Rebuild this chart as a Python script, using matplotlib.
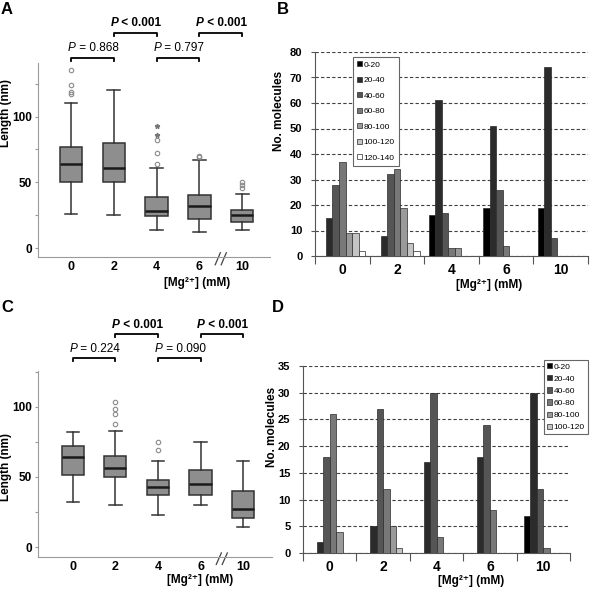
import numpy as np
import matplotlib.pyplot as plt
from matplotlib.transforms import blended_transform_factory

plt.rcParams['font.family'] = ['Liberation Sans', 'DejaVu Sans']

conc = ['0', '2', '4', '6', '10']

# Panel A: length box plots (nm)
a_low = [26, 25, 14, 12, 14]
a_q1 = [50, 50, 24, 22, 20]
a_med = [64, 61, 28, 32, 25]
a_q3 = [77, 80, 39, 40, 29]
a_high = [110, 120, 61, 67, 41]
a_out = [[117, 119, 124, 135], [], [64, 72, 82], [69, 70], [46, 48, 50]]
a_ext = [[], [], [86, 93], [], []]
a_pvals = ['= 0.868', '< 0.001', '= 0.797', '< 0.001']

# Panel C: length box plots (nm)
c_low = [32, 30, 23, 30, 14]
c_q1 = [51, 50, 37, 37, 21]
c_med = [64, 56, 43, 45, 27]
c_q3 = [72, 65, 48, 55, 40]
c_high = [82, 83, 61, 75, 61]
c_out = [[], [88, 95, 98, 103], [69, 75], [], []]
c_ext = [[], [], [], [], []]
c_pvals = ['= 0.224', '< 0.001', '= 0.090', '< 0.001']

# Panel B: histogram counts per length bin
b_bins = ['0-20', '20-40', '40-60', '60-80', '80-100', '100-120', '120-140']
b_0_20 = [0, 0, 16, 19, 19]
b_20_40 = [15, 8, 61, 51, 74]
b_40_60 = [28, 32, 17, 26, 7]
b_60_80 = [37, 34, 3, 4, 0]
b_80_100 = [9, 19, 3, 0, 0]
b_100_120 = [9, 5, 0, 0, 0]
b_120_140 = [2, 2, 0, 0, 0]

# Panel D: histogram counts per length bin
d_bins = ['0-20', '20-40', '40-60', '60-80', '80-100', '100-120']
d_0_20 = [0, 0, 0, 0, 7]
d_20_40 = [2, 5, 17, 18, 30]
d_40_60 = [18, 27, 30, 24, 12]
d_60_80 = [26, 12, 3, 8, 1]
d_80_100 = [4, 5, 0, 0, 0]
d_100_120 = [0, 1, 0, 0, 0]

bin_colors = ['#000000', '#2b2b2b', '#555555', '#787878', '#9a9a9a', '#c4c4c4', '#ffffff']

fig = plt.figure(figsize=(5.9, 5.9), dpi=100)
W = 590.0


def add_ax(x0, y0, x1, y1):
    # pixel box (left, top, right, bottom) -> figure fraction
    return fig.add_axes([x0 / W, 1 - y1 / W, (x1 - x0) / W, (y1 - y0) / W])


def ftext(px, py, s, **kw):
    fig.text(px / W, 1 - py / W, s, ha='center', va='center', fontweight='bold', **kw)


def pval(ax, xmid, y, rest, bold):
    w = 'bold' if bold else 'normal'
    ax.annotate('P', (xmid, y), xytext=(-12, 0), textcoords='offset points',
                ha='right', va='bottom', fontsize=8.5, fontstyle='italic',
                fontweight=w, annotation_clip=False)
    ax.annotate(' ' + rest, (xmid, y), xytext=(-12, 0), textcoords='offset points',
                ha='left', va='bottom', fontsize=8.5, fontweight=w,
                annotation_clip=False)


def box_panel(ax, low, q1, med, q3, high, out, ext, pvals, ylim, xlim, yb):
    stats = [dict(whislo=l, q1=a, med=m, q3=b, whishi=h, fliers=o)
             for l, a, m, b, h, o in zip(low, q1, med, q3, high, out)]
    ax.bxp(stats, positions=range(5), widths=0.52, capwidths=0.3,
           patch_artist=True, showfliers=True,
           boxprops=dict(facecolor='#8e8e8e', edgecolor='#333333', linewidth=1.1),
           medianprops=dict(color='#1a1a1a', linewidth=1.8),
           whiskerprops=dict(color='#333333', linewidth=1.1),
           capprops=dict(color='#333333', linewidth=1.1),
           flierprops=dict(marker='o', markersize=3.2, markerfacecolor='none',
                           markeredgecolor='#8a8a8a', markeredgewidth=0.8))
    for i, e in enumerate(ext):
        if e:
            ax.plot([i] * len(e), e, ls='none', marker='*', ms=3.5, color='#777777')
    ax.set_xlim(*xlim)
    ax.set_ylim(*ylim)
    for s in ['top', 'right']:
        ax.spines[s].set_visible(False)
    for s in ['left', 'bottom']:
        ax.spines[s].set_color('#9a9a9a')
    ax.set_yticks([0, 50, 100])
    ax.set_yticks([25, 75, 125], minor=True)
    ax.tick_params(axis='y', which='both', colors='#9a9a9a', labelcolor='black',
                   labelsize=8.5, length=2.5, width=0.8, pad=2)
    ax.set_xticks(range(5))
    ax.set_xticklabels(conc)
    ax.tick_params(axis='x', length=0, labelsize=9, pad=3)
    for t in ax.get_xticklabels() + ax.get_yticklabels():
        t.set_fontweight('bold')
    # axis break
    tr = blended_transform_factory(ax.transData, ax.transAxes)
    for dx in (0.0, 0.14):
        ax.plot([3.37 + dx, 3.49 + dx], [-0.04, 0.022], color='#444444', lw=0.9,
                transform=tr, clip_on=False)
    # significance brackets
    pairs = [(0, 1), (1, 2), (2, 3), (3, 4)]
    for k, ((x0, x1), p) in enumerate(zip(pairs, pvals)):
        y = yb[k % 2]
        tick = (ylim[1] - ylim[0]) * 0.015
        ax.plot([x0, x0, x1, x1], [y - tick, y, y, y - tick], color='black',
                lw=1.3, clip_on=False)
        pval(ax, (x0 + x1) / 2, y + tick * 1.3, p, k % 2 == 1)


def bar_panel(ax, series, bins, ymax, ystep, xlim):
    n = len(series)
    w = 0.12
    x = np.arange(len(conc))
    for i, vals in enumerate(series):
        ax.bar(x + (i - (n - 1) / 2) * w, vals, width=w, color=bin_colors[i],
               edgecolor='#2a2a2a', linewidth=0.5, label=bins[i], zorder=3)
    ax.set_xlim(*xlim)
    ax.set_ylim(0, ymax)
    ax.set_yticks(np.arange(0, ymax + 1, ystep))
    ax.yaxis.grid(True, linestyle=(0, (3, 2)), color='#404040', linewidth=0.8)
    for s in ['top', 'right']:
        ax.spines[s].set_visible(False)
    ax.spines['left'].set_color('#555555')
    ax.spines['bottom'].set_color('#555555')
    ax.set_xticks(np.arange(-0.5, len(conc)), labels=[''] * (len(conc) + 1))
    ax.set_xticks(x, labels=conc, minor=True)
    ax.tick_params(axis='x', which='major', length=6, color='#555555')
    ax.tick_params(axis='x', which='minor', length=0, labelsize=10, pad=5)
    ax.tick_params(axis='y', length=3, color='#555555', labelsize=8, pad=6)
    for t in ax.get_xticklabels(minor=True) + ax.get_yticklabels():
        t.set_fontweight('bold')


def legend(ax, x0, y0, spacing, pad):
    leg = ax.legend(loc='upper left', bbox_to_anchor=(x0 / W, 1 - y0 / W),
                    bbox_transform=fig.transFigure, fontsize=6, frameon=True,
                    fancybox=False, edgecolor='#666666', framealpha=1,
                    handlelength=0.6, handleheight=0.6, handletextpad=0.2,
                    labelspacing=spacing, borderpad=pad, borderaxespad=0)
    leg.get_frame().set_linewidth(0.8)


# ---- Panel A
axA = add_ax(38, 63, 270, 257)
box_panel(axA, a_low, a_q1, a_med, a_q3, a_high, a_out, a_ext, a_pvals,
          (-6.8, 140.7), (-0.77, 4.65), (144.5, 163.5))

# ---- Panel C
axC = add_ax(38, 371, 272, 557)
box_panel(axC, c_low, c_q1, c_med, c_q3, c_high, c_out, c_ext, c_pvals,
          (-7.1, 125.4), (-0.82, 4.68), (134.5, 151.5))

# ---- Panel B
axB = add_ax(315, 52, 588, 256)
bar_panel(axB, [b_0_20, b_20_40, b_40_60, b_60_80, b_80_100, b_100_120, b_120_140],
          b_bins, 80, 10, (-0.5, 4.5))
legend(axB, 353, 57, 0.95, 0.5)

# ---- Panel D
axD = add_ax(303, 366, 570, 553)
bar_panel(axD, [d_0_20, d_20_40, d_40_60, d_60_80, d_80_100, d_100_120],
          d_bins, 35, 5, (-0.5, 4.5))
legend(axD, 544, 360, 0.55, 0.35)

# axis titles placed like the original
xl = '[Mg\u00b2\u207a] (mM)'
ftext(197, 283, xl, fontsize=8.5)
ftext(489, 285, xl, fontsize=8.5)
ftext(200, 580, xl, fontsize=8.5)
ftext(471, 581, xl, fontsize=8.5)
ftext(6.5, 113, 'Length (nm)', fontsize=8.5, rotation=90)
ftext(6.5, 467, 'Length (nm)', fontsize=8.5, rotation=90)
ftext(279, 111, 'No. molecules', fontsize=8.5, rotation=90)
ftext(272, 427, 'No. molecules', fontsize=8.5, rotation=90)

# panel letters
for s, (px, py) in zip('ABCD', [(7, 9), (283, 9), (7, 308), (278, 308)]):
    ftext(px, py, s, fontsize=12)

fig.savefig('out.png', dpi=100)
